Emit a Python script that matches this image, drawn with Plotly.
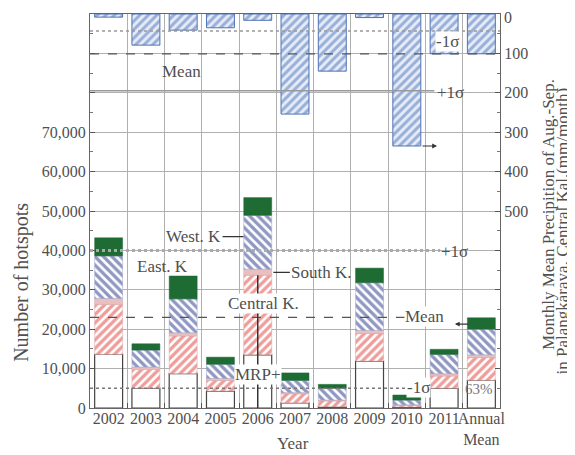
import plotly.graph_objects as go
import numpy as np

years = ["2002", "2003", "2004", "2005", "2006", "2007", "2008", "2009", "2010", "2011", "Annual<br>Mean"]

# hotspots by region (stack order bottom -> top)
mrp = [13600, 5000, 8700, 4300, 13500, 1300, 300, 11900, 250, 5000, 7000]
central_k = [12700, 4800, 9600, 2700, 20200, 2300, 1500, 7000, 400, 3100, 5800]
south_k = [1500, 600, 800, 500, 1500, 300, 200, 800, 150, 600, 700]
west_k = [10800, 4300, 8600, 3600, 13700, 3100, 3000, 12100, 1200, 4900, 6500]
east_k = [4600, 1600, 5800, 1800, 4500, 1900, 1000, 3700, 1300, 1300, 2900]

# precipitation (mm/month)
precip = [8, 79, 41, 35, 16, 254, 145, 9, 335, 101, 101]

hot_mean, hot_plus, hot_minus = 23000, 40000, 5000
pr_mean, pr_plus, pr_minus = 101, 195, 43

left_ticks = list(range(0, 100001, 10000))
left_labels = [f"{v:,}" if v <= 70000 else "" for v in left_ticks]
right_ticks = list(range(0, 1001, 100))
# the top "0" label is drawn separately so that it stays inside the page
right_labels = [str(v) if 0 < v <= 500 else "" for v in right_ticks]
right_top_label = "0"

FONT = "Liberation Serif"
TXT = "#505050"

fig = go.Figure()

# precipitation bars (right reversed axis)
fig.add_trace(go.Bar(
    x=years, y=precip, yaxis="y2", width=0.75, name="Precipitation",
    marker=dict(color="#dfe7f4", line=dict(color="#4f74b4", width=1),
                pattern=dict(shape="/", fgcolor="#4a72bb", bgcolor="#e6ecf7", size=6, solidity=0.5)),
    showlegend=False,
))

segments = [
    ("MRP", mrp, dict(color="rgba(255,255,255,0)", line=dict(color="#444444", width=1.2))),
    ("Central K.", central_k, dict(color="white", line=dict(color="#d9a0a0", width=0.5),
                                   pattern=dict(shape="/", fgcolor="#dd3b35", bgcolor="white", size=6, solidity=0.55))),
    ("South K.", south_k, dict(color="#e9c0c0", line=dict(color="#d9a0a0", width=0.5))),
    ("West. K", west_k, dict(color="white", line=dict(color="#9aa0c8", width=0.5),
                              pattern=dict(shape="\\", fgcolor="#222f85", bgcolor="white", size=6, solidity=0.55))),
    ("East. K", east_k, dict(color="#1e6b34", line=dict(color="#1e6b34", width=0.5))),
]
base = np.zeros(len(years))
for name, vals, mk in segments:
    fig.add_trace(go.Bar(x=years, y=vals, base=base.copy(), width=0.75, name=name,
                         marker=mk, showlegend=False))
    base = base + np.array(vals)

shapes = [
    dict(type="line", xref="paper", yref="y", x0=0, x1=0.854, y0=hot_plus, y1=hot_plus,
         line=dict(color="#aaaaaa", width=3, dash="dot"), layer="above"),
    dict(type="line", xref="paper", yref="y", x0=0, x1=0.878, y0=hot_mean, y1=hot_mean,
         line=dict(color="#555555", width=1.2, dash="dash"), layer="above"),
    dict(type="line", xref="paper", yref="y", x0=0, x1=0.78, y0=hot_minus, y1=hot_minus,
         line=dict(color="#777777", width=1.5, dash="dot"), layer="above"),
    dict(type="line", xref="paper", yref="y2", x0=0, x1=1, y0=pr_minus, y1=pr_minus,
         line=dict(color="#999999", width=1.5, dash="dot"), layer="above"),
    dict(type="line", xref="paper", yref="y2", x0=0, x1=1, y0=pr_mean, y1=pr_mean,
         line=dict(color="#555555", width=1.2, dash="dash"), layer="above"),
    dict(type="line", xref="paper", yref="y2", x0=0, x1=0.84, y0=pr_plus, y1=pr_plus,
         line=dict(color="#999999", width=1.5), layer="above"),
    dict(type="line", xref="x", yref="y", x0=4, x1=4, y0=0, y1=mrp[4] + central_k[4],
         line=dict(color="#333333", width=1.5), layer="above"),
]

af = dict(family=FONT, size=17, color=TXT)
C = dict(xanchor="center", yanchor="middle", showarrow=False)
annotations = [
    dict(text="East. K", xref="paper", yref="paper", x=0.176, y=0.360, font=af, **C),
    dict(text="West. K", xref="x", yref="y", x=3.62, y=43500, ax=-50, ay=0, showarrow=True,
         arrowhead=0, arrowwidth=1.2, arrowcolor="#333", font=af),
    dict(text="South K.", xref="x", yref="y", x=4.42, y=34400, ax=48, ay=0, showarrow=True,
         arrowhead=0, arrowwidth=1.2, arrowcolor="#333", font=af),
    dict(text="Central K.", xref="paper", yref="paper", x=0.422, y=0.264,
         bgcolor="white", borderpad=0, font=af, **C),
    dict(text="MRP+", xref="paper", yref="paper", x=0.41, y=0.086,
         bgcolor="white", borderpad=0, font=af, **C),
    dict(text="Mean", xref="paper", yref="paper", x=0.815, y=0.231,
         bgcolor="white", borderpad=0, font=af, **C),
    dict(text="+1σ", xref="paper", yref="paper", x=0.89, y=0.398, font=af, **C),
    dict(text="-1σ", xref="paper", yref="paper", x=0.80, y=0.051,
         bgcolor="white", borderpad=0, font=af, **C),
    dict(text="63%", xref="paper", yref="paper", x=0.949, y=0.048,
         font=dict(family=FONT, size=15, color="#777"), **C),
    dict(text="Mean", xref="paper", yref="paper", x=0.224, y=0.855, font=af, **C),
    dict(text="+1σ", xref="paper", yref="paper", x=0.88, y=0.80, font=af, **C),
    dict(text="-1σ", xref="paper", yref="paper", x=0.871, y=0.931,
         bgcolor="white", borderpad=0, font=af, **C),
    dict(text="", xref="x", yref="y2", x=8.81, y=precip[8], ax=-16, ay=0, showarrow=True,
         arrowhead=2, arrowsize=0.8, arrowwidth=1.2, arrowcolor="#333"),
    dict(text="", xref="x", yref="y", x=9.29, y=21300, ax=15, ay=0, showarrow=True,
         arrowhead=2, arrowsize=0.8, arrowwidth=1.2, arrowcolor="#333"),
    dict(text=right_top_label, xref="paper", yref="paper", x=1, y=1, xanchor="left",
         yanchor="top", xshift=3, yshift=6, showarrow=False, borderpad=0,
         font=dict(family=FONT, size=16, color=TXT)),
    dict(text="Number of hotspots", xref="paper", yref="paper", x=-0.166, y=0.32,
         textangle=-90, font=dict(family=FONT, size=20, color=TXT), **C),
    dict(text="Monthly Mean Precipition of Aug.-Sep.", xref="paper", yref="paper",
         x=1.117, y=0.492, textangle=-90, font=dict(family=FONT, size=17, color=TXT), **C),
    dict(text="in Palangkaraya, Central Kal.(mm/month)", xref="paper", yref="paper",
         x=1.152, y=0.449, textangle=-90, font=dict(family=FONT, size=17, color=TXT), **C),
    dict(text="Year", xref="paper", yref="paper", x=0.495, y=-0.089,
         font=dict(family=FONT, size=17, color=TXT), **C),
]

fig.update_layout(
    width=567, height=447,
    margin=dict(l=82, r=75, t=6, b=47),
    paper_bgcolor="white", plot_bgcolor="white",
    barmode="overlay", bargap=0.25,
    font=dict(family=FONT, size=16, color=TXT),
    shapes=shapes, annotations=annotations,
    xaxis=dict(type="category", tickson="boundaries", showgrid=True, gridcolor="#b0b0b0",
               gridwidth=1, ticks="inside", ticklen=5, tickcolor="#555", showline=True,
               linecolor="#666", linewidth=1.2, mirror=True, tickangle=0, automargin=False,
               ticklabelstandoff=-4, ticklabeloverflow="allow",
               tickfont=dict(family=FONT, size=16, color=TXT)),
    yaxis=dict(range=[0, 100000], tickmode="array", tickvals=left_ticks, ticktext=left_labels,
               showgrid=True, gridcolor="#b0b0b0", gridwidth=1, ticks="inside", ticklen=5,
               tickcolor="#555", showline=True, linecolor="#666", linewidth=1.2, zeroline=False,
               automargin=False, ticklabeloverflow="allow",
               minor=dict(dtick=5000, ticks="inside", ticklen=3, tickcolor="#777", showgrid=False),
               tickfont=dict(family=FONT, size=16, color=TXT)),
    yaxis2=dict(overlaying="y", side="right", range=[1000, 0], tickmode="array",
                tickvals=right_ticks, ticktext=right_labels, showgrid=False, ticks="inside",
                ticklen=5, tickcolor="#555", showline=True, linecolor="#666", linewidth=1.2,
                zeroline=False, automargin=False, ticklabeloverflow="allow",
                minor=dict(dtick=50, ticks="inside", ticklen=3, tickcolor="#777", showgrid=False),
                tickfont=dict(family=FONT, size=16, color=TXT)),
)

fig.write_html("out.html")
